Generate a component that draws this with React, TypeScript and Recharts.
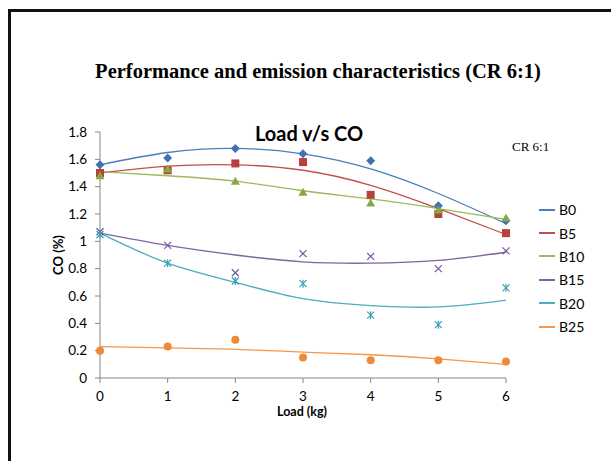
import { ComposedChart, Line, Scatter, XAxis, YAxis } from 'recharts';

// Load (kg)
const loads = [0, 1, 2, 3, 4, 5, 6];

// CO (%) measured points
const b0 = [1.56, 1.61, 1.68, 1.64, 1.59, 1.26, 1.15];
const b5 = [1.5, 1.52, 1.57, 1.58, 1.34, 1.2, 1.06];
const b10 = [1.48, 1.53, 1.44, 1.36, 1.28, 1.23, 1.17];
const b15 = [1.07, 0.97, 0.77, 0.91, 0.89, 0.8, 0.93];
const b20 = [1.05, 0.84, 0.71, 0.69, 0.46, 0.39, 0.66];
const b25 = [0.2, 0.23, 0.28, 0.15, 0.13, 0.13, 0.12];

// trendline values at each load
const b0Trend = [1.56, 1.65, 1.68, 1.64, 1.53, 1.35, 1.13];
const b5Trend = [1.5, 1.55, 1.56, 1.52, 1.41, 1.24, 1.05];
const b10Trend = [1.51, 1.48, 1.44, 1.37, 1.31, 1.24, 1.16];
const b15Trend = [1.06, 0.97, 0.9, 0.85, 0.84, 0.86, 0.92];
const b20Trend = [1.06, 0.84, 0.7, 0.58, 0.53, 0.52, 0.57];
const b25Trend = [0.23, 0.22, 0.21, 0.19, 0.17, 0.14, 0.1];

const yTicks = [0, 0.2, 0.4, 0.6, 0.8, 1, 1.2, 1.4, 1.6, 1.8];

const series = [
  { key: 'b0', name: 'B0', values: b0, trend: b0Trend, color: '#4A7EBB', marker: '#3F72B5', shape: 'diamond' },
  { key: 'b5', name: 'B5', values: b5, trend: b5Trend, color: '#C0504D', marker: '#B8413E', shape: 'square' },
  { key: 'b10', name: 'B10', values: b10, trend: b10Trend, color: '#9BBB59', marker: '#86A943', shape: 'triangle' },
  { key: 'b15', name: 'B15', values: b15, trend: b15Trend, color: '#8064A2', marker: '#7356A0', shape: 'x' },
  { key: 'b20', name: 'B20', values: b20, trend: b20Trend, color: '#4BACC6', marker: '#3A9DB7', shape: 'star' },
  { key: 'b25', name: 'B25', values: b25, trend: b25Trend, color: '#F79646', marker: '#EE8A3A', shape: 'circle' },
];

const chartData = loads.map((load, i) => {
  const row: Record<string, number> = { load };
  series.forEach((s) => {
    row[s.key] = s.values[i];
    row[s.key + 'T'] = s.trend[i];
  });
  return row;
});

const makeMarker = (shape: string, color: string) => (props: any) => {
  const { cx, cy } = props;
  if (cx == null || cy == null) return <g />;
  switch (shape) {
    case 'diamond':
      return <polygon points={`${cx},${cy - 4.5} ${cx + 4.5},${cy} ${cx},${cy + 4.5} ${cx - 4.5},${cy}`} fill={color} />;
    case 'square':
      return <rect x={cx - 4} y={cy - 4} width={8} height={8} fill={color} />;
    case 'triangle':
      return <polygon points={`${cx},${cy - 4.5} ${cx + 4.5},${cy + 3.5} ${cx - 4.5},${cy + 3.5}`} fill={color} />;
    case 'x':
      return (
        <g stroke={color} strokeWidth={1.2}>
          <line x1={cx - 3.5} y1={cy - 3.5} x2={cx + 3.5} y2={cy + 3.5} />
          <line x1={cx - 3.5} y1={cy + 3.5} x2={cx + 3.5} y2={cy - 3.5} />
        </g>
      );
    case 'star':
      return (
        <g stroke={color} strokeWidth={1.2}>
          <line x1={cx - 3.5} y1={cy - 3.5} x2={cx + 3.5} y2={cy + 3.5} />
          <line x1={cx - 3.5} y1={cy + 3.5} x2={cx + 3.5} y2={cy - 3.5} />
          <line x1={cx} y1={cy - 4} x2={cx} y2={cy + 4} />
        </g>
      );
    default:
      return <circle cx={cx} cy={cy} r={4} fill={color} />;
  }
};

export default function App() {
  return (
    <div style={{ position: 'absolute', left: 0, top: 0, width: 611, height: 461, background: '#fff', overflow: 'hidden' }}>
      {/* page frame */}
      <div style={{ position: 'absolute', left: 8, top: 9, right: -10, bottom: -10, borderLeft: '3px solid #111', borderTop: '3px solid #111' }} />

      <div style={{ position: 'absolute', left: 0, width: 636, top: 60, textAlign: 'center', fontFamily: 'Liberation Serif', fontWeight: 'bold', fontSize: 20.5, whiteSpace: 'nowrap' }}>
        Performance and emission characteristics (CR 6:1)
      </div>

      <ComposedChart
        width={611}
        height={461}
        data={chartData}
        margin={{ top: 132, right: 105, bottom: 0, left: 0 }}
        style={{ position: 'absolute', left: 0, top: 0 }}
      >
        <XAxis
          type="number"
          dataKey="load"
          domain={[0, 6]}
          ticks={loads}
          height={83}
          stroke="#868686"
          tickSize={5}
          tickMargin={8}
          tick={{ fill: '#000', fontSize: 13.5, fontFamily: 'Lato' }}
        />
        <YAxis
          type="number"
          domain={[0, 1.8]}
          ticks={yTicks}
          width={100}
          stroke="#868686"
          tickSize={5}
          tickMargin={8}
          tick={{ fill: '#000', fontSize: 13.5, fontFamily: 'Lato' }}
          tickFormatter={(v: number) => String(Number(v.toFixed(1)))}
        />
        {series.map((s) => (
          <Line
            key={s.key + 'T'}
            type="natural"
            dataKey={s.key + 'T'}
            stroke={s.color}
            strokeWidth={1.3}
            dot={false}
            activeDot={false}
            isAnimationActive={false}
          />
        ))}
        {series.map((s) => (
          <Scatter
            key={s.key}
            dataKey={s.key}
            name={s.name}
            shape={makeMarker(s.shape, s.marker)}
            isAnimationActive={false}
          />
        ))}
      </ComposedChart>

      <div style={{ position: 'absolute', left: 0, width: 618, top: 121, textAlign: 'center', fontFamily: 'Lato', fontWeight: 'bold', fontSize: 20 }}>
        Load v/s CO
      </div>
      <div style={{ position: 'absolute', left: 512, top: 139, fontFamily: 'Liberation Serif', fontSize: 13 }}>CR 6:1</div>

      {/* legend */}
      <div style={{ position: 'absolute', left: 539, top: 198, fontFamily: 'Lato', fontSize: 14, color: '#000' }}>
        {series.map((s) => (
          <div key={s.key} style={{ display: 'flex', alignItems: 'center', height: 23.4 }}>
            <div style={{ width: 16, height: 2, background: s.color, marginRight: 4 }} />
            <span>{s.name}</span>
          </div>
        ))}
      </div>

      <div style={{ position: 'absolute', left: 302, top: 411, transform: 'translate(-50%, -50%)', fontFamily: 'Lato', fontWeight: 'bold', fontSize: 12.5, whiteSpace: 'nowrap' }}>
        Load (kg)
      </div>
      <div style={{ position: 'absolute', left: 58, top: 255, transform: 'translate(-50%, -50%) rotate(-90deg)', fontFamily: 'Lato', fontWeight: 'bold', fontSize: 13, whiteSpace: 'nowrap' }}>
        CO (%)
      </div>
    </div>
  );
}
